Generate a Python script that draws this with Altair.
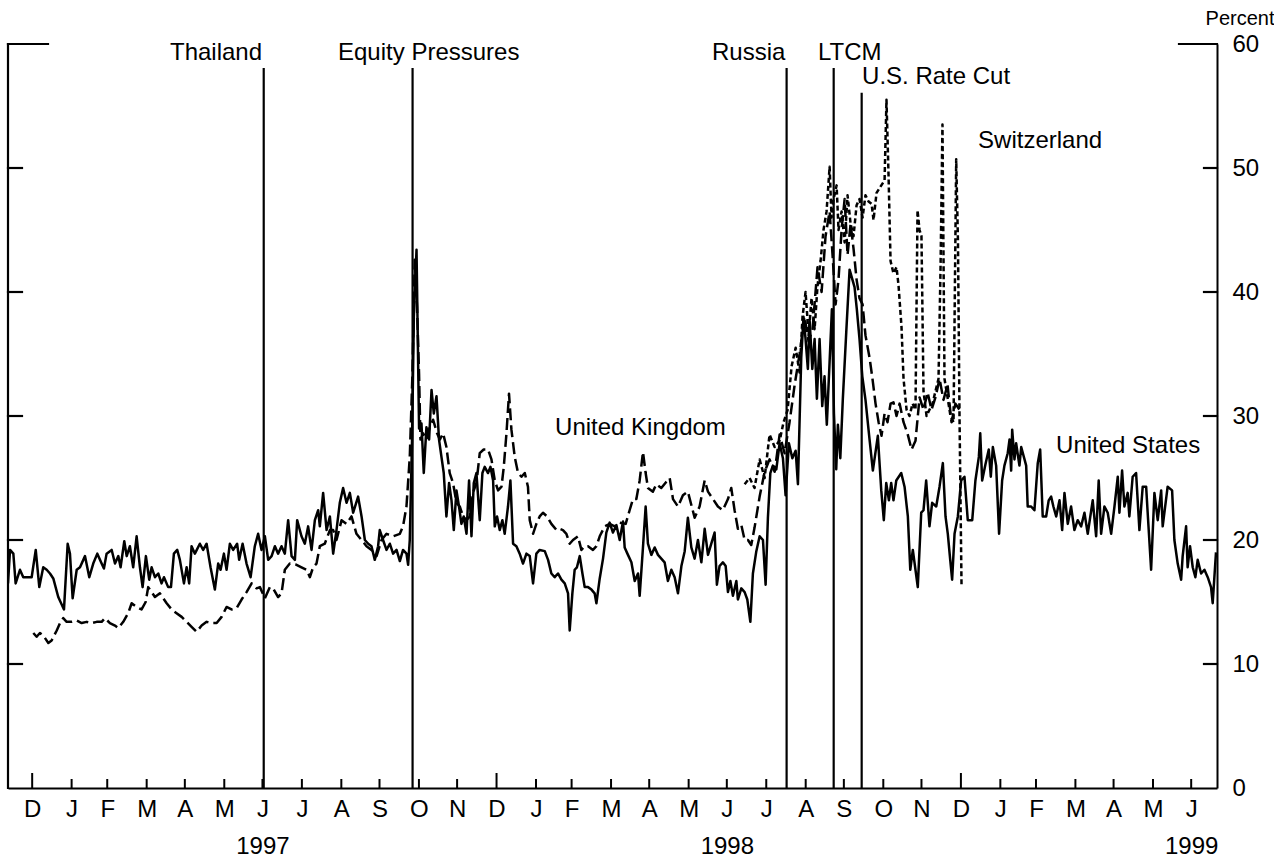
import altair as alt
import pandas as pd

# ---------------- data (days after 1996-12-13, percent) ----------------
BASE = pd.Timestamp("1996-12-13")

us_points = [
    (0, 16.5), (1.6, 19.2), (4.2, 18.9), (6.0, 16.5), (9.4, 17.6), (12.0, 17.0), (18.6, 17.0), (21.8, 19.2),
    (24.6, 16.2), (27.7, 17.8), (30.4, 17.6), (33.0, 17.3), (35.6, 16.9), (39.5, 15.4), (44.0, 14.4), (46.9, 19.7),
    (48.7, 18.9), (50.8, 15.3), (54.0, 17.6), (56.6, 17.8), (60.5, 18.7), (63.9, 17.0), (67.0, 18.1), (70.2, 18.9),
    (73.6, 18.1), (75.4, 17.7), (77.5, 18.9), (81.5, 19.2), (84.1, 18.1), (86.7, 18.7), (88.5, 17.8), (91.4, 19.9),
    (93.3, 18.7), (95.8, 19.5), (98.4, 17.8), (101.1, 20.3), (103.7, 17.8), (105.8, 16.2), (108.4, 18.7), (111.0, 16.8),
    (112.9, 17.8), (115.5, 17.0), (118.1, 17.3), (120.7, 16.5), (122.6, 17.0), (125.9, 16.2), (128.1, 16.2), (130.4, 18.9),
    (133.0, 19.2), (135.1, 18.4), (138.3, 16.5), (140.4, 17.8), (142.4, 16.5), (144.3, 19.5), (146.9, 18.9), (150.8, 19.7),
    (153.4, 19.2), (156.1, 19.7), (159.2, 17.8), (162.6, 16.0), (165.2, 18.1), (167.1, 17.6), (169.7, 18.9), (171.8, 17.6),
    (174.4, 19.7), (177.0, 19.2), (180.1, 19.7), (181.7, 18.4), (184.4, 19.7), (187.5, 18.1), (190.7, 17.0), (194.0, 19.5),
    (196.6, 20.5), (199.3, 19.2), (201.9, 20.3), (204.5, 18.4), (207.2, 18.7), (209.8, 19.5), (212.3, 18.9), (215.0, 19.5),
    (217.6, 18.9), (220.2, 21.6), (222.9, 18.7), (225.5, 18.4), (227.3, 21.6), (230.7, 20.3), (233.3, 19.7), (235.9, 21.1),
    (238.6, 19.2), (241.2, 21.6), (243.8, 22.4), (245.1, 21.1), (247.7, 23.8), (250.4, 20.8), (253.0, 21.9), (255.6, 18.9),
    (258.2, 20.8), (260.8, 23.0), (263.4, 24.2), (266.1, 23.0), (268.7, 23.8), (271.3, 22.2), (275.2, 23.5), (277.9, 21.9),
    (280.5, 20.0), (283.1, 19.7), (285.7, 19.5), (288.3, 18.4), (290.9, 19.5), (292.2, 20.8), (294.8, 20.0), (297.5, 19.2),
    (300.1, 19.7), (302.7, 18.9), (305.4, 19.2), (308.0, 18.3), (310.5, 19.2), (313.2, 18.9), (314.5, 18.0), (315.8, 20.0),
    (317.6, 28.1), (319.0, 38.0), (321.1, 43.4), (323.1, 29.0), (325.0, 29.4), (326.8, 25.4), (328.9, 29.1), (331.0, 28.1),
    (332.9, 32.1), (334.7, 30.2), (336.8, 31.6), (338.8, 28.1), (340.7, 26.7), (342.5, 25.4), (344.6, 21.9), (346.7, 24.6),
    (348.6, 23.2), (350.4, 20.8), (352.5, 24.0), (354.5, 22.7), (356.4, 21.3), (358.2, 21.9), (360.4, 20.5), (362.4, 24.8),
    (364.3, 20.3), (366.1, 24.6), (368.2, 25.4), (370.8, 21.6), (372.9, 25.4), (374.7, 25.9), (377.3, 25.4), (379.2, 25.9),
    (381.3, 24.8), (382.6, 21.1), (384.4, 21.9), (386.5, 20.8), (388.6, 21.6), (390.4, 20.5), (393.0, 22.7), (394.9, 24.8),
    (397.0, 19.7), (399.6, 19.5), (402.2, 18.9), (404.8, 18.1), (407.5, 18.9), (410.1, 18.7), (412.7, 16.5), (415.3, 18.9),
    (417.9, 19.2), (421.9, 19.1), (424.5, 18.4), (427.1, 17.3), (429.7, 17.0), (432.3, 17.3), (435.0, 16.8), (437.6, 16.5),
    (440.2, 15.7), (441.5, 12.7), (443.6, 15.7), (445.4, 17.6), (447.2, 17.8), (449.4, 18.7), (451.5, 17.3), (453.3, 16.2),
    (455.9, 16.2), (458.6, 16.0), (461.1, 15.7), (462.5, 14.9), (465.1, 16.9), (467.7, 18.5), (470.3, 20.6), (472.9, 21.4),
    (475.5, 20.6), (478.2, 21.2), (480.8, 20.0), (483.4, 21.5), (484.7, 19.4), (487.3, 18.8), (490.0, 18.2), (492.6, 16.7),
    (495.2, 17.3), (496.5, 15.5), (499.1, 19.4), (501.2, 22.7), (503.0, 19.7), (505.7, 18.8), (508.3, 19.4), (510.9, 18.8),
    (513.5, 18.5), (516.1, 18.2), (518.7, 16.7), (521.4, 17.6), (524.0, 17.0), (526.6, 15.7), (529.3, 17.9), (531.9, 19.1),
    (534.4, 21.8), (537.1, 19.4), (539.7, 18.5), (542.3, 20.0), (545.0, 18.2), (547.6, 20.9), (550.2, 18.8), (552.8, 19.7),
    (555.4, 20.6), (557.2, 16.4), (559.3, 17.9), (561.9, 18.2), (564.1, 17.9), (565.9, 15.8), (567.8, 16.7), (569.8, 15.5),
    (572.5, 16.7), (573.7, 15.2), (576.4, 16.1), (579.0, 15.8), (581.1, 15.2), (583.5, 13.4), (585.5, 17.3), (588.2, 19.1),
    (590.8, 20.3), (593.4, 20.0), (595.5, 16.4), (597.3, 21.8), (599.2, 25.4), (601.2, 26.0), (603.9, 25.7), (606.5, 27.8),
    (609.1, 26.6), (611.2, 23.6), (613.8, 27.8), (616.5, 26.6), (619.1, 27.2), (620.9, 24.5), (623.5, 34.7), (625.3, 38.0),
    (626.9, 36.2), (628.7, 33.8), (630.1, 37.7), (632.2, 33.8), (634.0, 36.2), (635.8, 31.4), (637.9, 36.2), (640.0, 30.8),
    (641.8, 33.2), (643.6, 29.3), (645.8, 34.4), (647.6, 38.6), (649.2, 30.2), (651.0, 25.7), (652.3, 29.3), (654.2, 26.6),
    (656.2, 31.4), (658.9, 36.8), (661.5, 41.8), (665.4, 40.4), (667.2, 38.6), (669.3, 36.2), (671.5, 33.2), (674.0, 31.3),
    (677.2, 28.1), (679.8, 25.6), (683.7, 28.4), (686.4, 24.0), (688.4, 21.6), (690.3, 24.6), (692.4, 23.2), (694.2, 24.6),
    (696.0, 23.2), (698.2, 24.8), (702.1, 25.4), (704.7, 24.3), (707.3, 21.9), (709.2, 17.6), (711.2, 19.2), (715.1, 16.2),
    (717.8, 22.2), (719.6, 22.4), (721.7, 24.8), (724.3, 21.1), (726.4, 23.0), (729.6, 22.7), (732.2, 24.3), (734.8, 26.2),
    (736.9, 21.9), (738.7, 20.5), (740.6, 18.4), (742.1, 16.8), (744.0, 20.5), (746.6, 21.9), (749.2, 24.8), (751.8, 25.1),
    (754.4, 21.6), (757.9, 21.6), (760.4, 24.8), (763.1, 26.7), (764.2, 28.6), (765.7, 24.8), (768.3, 26.1), (770.9, 27.3),
    (772.5, 25.1), (774.1, 27.5), (776.7, 26.0), (779.0, 20.5), (781.4, 24.8), (783.2, 26.0), (785.8, 27.0), (787.2, 28.1),
    (788.5, 25.6), (789.3, 28.9), (791.1, 26.5), (792.4, 27.8), (795.0, 26.0), (796.4, 27.5), (799.0, 26.5), (800.3, 26.0),
    (801.5, 22.7), (804.2, 22.7), (806.8, 22.4), (809.4, 26.2), (811.3, 27.3), (813.3, 21.9), (816.0, 21.9), (818.0, 23.2),
    (819.9, 23.5), (821.7, 22.7), (823.9, 21.9), (826.5, 23.2), (828.6, 20.8), (830.4, 23.8), (833.0, 21.3), (835.6, 22.7),
    (838.2, 20.8), (840.8, 21.6), (843.5, 21.1), (846.1, 22.2), (848.7, 20.5), (852.6, 23.2), (855.3, 20.3), (857.3, 24.8),
    (859.2, 20.5), (861.8, 22.7), (864.4, 22.2), (867.1, 20.5), (869.7, 22.7), (872.3, 25.1), (873.6, 22.2), (875.7, 25.6),
    (877.5, 22.7), (880.1, 23.8), (881.4, 21.9), (884.0, 25.1), (886.7, 25.4), (889.3, 20.8), (891.9, 24.3), (894.6, 24.3),
    (895.8, 22.2), (898.5, 17.6), (901.1, 23.8), (903.7, 21.6), (906.4, 24.0), (907.6, 21.1), (911.5, 24.3), (915.0, 24.0),
    (916.8, 20.0), (919.4, 18.1), (922.1, 16.8), (923.3, 18.7), (926.0, 21.1), (927.2, 17.8), (929.1, 19.5), (931.2, 17.8),
    (933.3, 17.0), (935.1, 18.4), (937.8, 17.3), (940.4, 17.6), (943.0, 17.0), (945.6, 16.2), (946.9, 14.9), (949.5, 19.0),
]

uk_points = [
    (19.9, 12.5), (22.5, 12.2), (25.1, 12.5), (27.7, 12.3), (31.7, 11.7), (34.3, 11.9), (38.3, 12.7), (40.9, 13.3),
    (43.4, 13.7), (46.1, 13.4), (50.0, 13.4), (54.0, 13.5), (57.9, 13.3), (61.8, 13.4), (65.8, 13.3), (69.7, 13.4),
    (73.6, 13.4), (76.2, 13.7), (80.1, 13.3), (84.1, 13.1), (86.7, 12.9), (90.6, 13.4), (94.5, 14.1), (97.2, 14.9),
    (101.1, 14.6), (105.0, 14.4), (108.2, 15.0), (110.2, 16.2), (112.9, 15.8), (115.5, 15.4), (119.4, 15.7), (122.0, 15.3),
    (124.7, 14.9), (128.6, 14.4), (132.5, 14.1), (136.5, 13.8), (140.4, 13.4), (144.3, 13.0), (148.2, 12.6), (152.2, 13.1),
    (156.1, 13.4), (160.0, 13.3), (164.0, 13.3), (167.9, 13.8), (171.8, 14.6), (175.7, 14.4), (179.7, 14.5), (183.6, 15.2),
    (187.5, 15.8), (191.5, 16.5), (195.4, 16.1), (198.0, 16.2), (201.9, 15.3), (205.8, 16.2), (208.4, 16.1), (212.3, 15.4),
    (215.0, 15.7), (217.6, 17.6), (221.5, 18.1), (226.8, 18.0), (230.7, 17.8), (234.7, 17.6), (237.3, 17.0), (239.8, 17.8),
    (242.5, 18.1), (245.1, 19.5), (249.0, 19.7), (253.0, 20.8), (255.6, 20.8), (258.2, 20.0), (262.2, 21.6), (266.1, 21.3),
    (270.0, 21.9), (273.9, 20.5), (277.9, 20.0), (281.8, 19.5), (285.7, 19.2), (289.7, 18.7), (293.6, 20.0), (297.5, 20.5),
    (302.7, 20.3), (308.0, 20.5), (310.5, 21.1), (313.2, 22.7), (315.8, 26.7), (317.9, 33.4), (319.7, 42.6), (321.5, 38.8),
    (323.1, 33.4), (324.2, 28.1), (326.3, 28.6), (328.9, 28.1), (331.5, 29.1), (334.1, 29.7), (337.3, 28.6), (339.4, 28.1),
    (342.0, 28.6), (344.6, 27.5), (347.2, 25.4), (349.8, 24.6), (352.5, 23.0), (355.1, 22.7), (357.7, 21.9), (360.4, 21.6),
    (362.9, 21.9), (365.5, 23.8), (368.2, 24.6), (370.8, 27.0), (373.9, 27.3), (377.3, 27.3), (380.0, 26.5), (382.6, 24.8),
    (385.2, 24.0), (387.9, 24.3), (389.7, 25.9), (391.8, 28.6), (393.8, 31.8), (395.7, 28.9), (398.3, 26.7), (400.9, 25.4),
    (403.6, 25.1), (406.2, 25.4), (408.7, 24.3), (410.1, 21.6), (412.7, 20.5), (415.3, 21.3), (417.9, 21.9), (420.5, 22.2),
    (423.7, 21.9), (427.1, 21.3), (431.1, 20.8), (433.7, 20.9), (436.2, 20.8), (438.9, 20.5), (441.5, 19.7), (444.1, 20.0),
    (448.0, 20.3), (450.7, 19.2), (453.3, 19.5), (455.9, 19.5), (459.8, 19.2), (462.5, 19.5), (465.1, 20.3), (469.0, 21.1),
    (472.9, 21.3), (476.9, 21.1), (480.8, 21.4), (485.5, 21.3), (488.6, 22.4), (491.2, 23.3), (493.9, 23.3), (496.5, 24.8),
    (499.1, 27.1), (501.2, 25.4), (503.0, 24.2), (506.9, 23.9), (509.6, 24.5), (513.5, 24.2), (517.5, 24.7), (520.1, 25.0),
    (522.7, 23.3), (526.6, 22.7), (530.5, 23.6), (534.4, 23.9), (539.7, 21.8), (543.6, 22.7), (547.6, 24.8), (550.2, 23.9),
    (554.1, 23.3), (558.0, 22.7), (561.9, 22.4), (565.9, 23.3), (568.5, 24.2), (571.1, 22.4), (573.7, 20.9), (576.4, 21.2),
    (579.0, 20.0), (581.6, 20.0), (584.2, 19.6), (586.8, 21.0), (590.8, 23.5), (594.7, 25.5), (598.6, 26.5), (602.6, 25.5),
    (606.5, 28.5), (610.4, 27.0), (614.3, 29.5), (618.3, 32.5), (622.2, 35.0), (626.1, 38.0), (629.3, 36.0), (632.4, 37.0),
    (636.3, 42.0), (639.5, 40.0), (642.6, 44.5), (645.8, 46.5), (648.1, 43.0), (650.5, 39.0), (652.8, 41.0), (655.2, 45.0),
    (657.6, 47.5), (659.9, 43.0), (662.3, 45.5), (664.6, 43.5), (667.0, 41.0), (669.3, 39.5), (671.7, 39.0), (674.0, 36.5),
    (677.2, 34.7), (679.5, 33.0), (681.9, 31.0), (684.3, 29.5), (686.6, 28.4), (689.0, 30.2), (691.3, 29.5), (693.7, 31.0),
    (696.0, 31.1), (698.4, 30.0), (700.8, 31.0), (703.9, 29.5), (707.0, 28.6), (710.2, 27.3), (713.3, 28.0), (716.5, 31.5),
    (719.6, 30.5), (722.8, 31.9), (725.9, 30.5), (729.0, 31.5), (732.2, 33.0), (735.3, 31.3), (738.5, 32.5), (741.6, 29.5),
    (744.7, 31.0), (747.9, 30.5), (750.2, 30.5),
]

ch_points = [
    (579.0, 24.5), (582.9, 25.0), (586.8, 24.2), (590.8, 26.5), (594.7, 25.0), (598.6, 28.5), (602.6, 27.5), (606.5, 28.0),
    (609.6, 29.5), (612.8, 30.5), (615.9, 34.0), (619.1, 35.5), (622.2, 33.5), (624.5, 38.0), (626.9, 40.0), (629.3, 36.5),
    (631.6, 39.5), (634.0, 37.0), (636.3, 40.5), (638.7, 42.5), (641.0, 45.0), (643.4, 46.5), (645.8, 50.1), (647.3, 46.0),
    (648.9, 47.5), (651.3, 48.6), (652.8, 45.0), (655.2, 46.5), (657.6, 44.0), (659.9, 47.8), (662.3, 45.5), (664.6, 44.5),
    (667.0, 47.0), (669.3, 47.5), (671.7, 46.0), (674.0, 47.8), (676.4, 47.3), (678.8, 47.1), (680.3, 45.8), (682.7, 48.0),
    (685.8, 48.5), (689.0, 49.0), (690.5, 55.5), (692.1, 49.5), (693.7, 42.5), (696.0, 41.5), (698.4, 42.0), (700.0, 40.5),
    (702.3, 37.2), (703.9, 33.0), (706.3, 30.5), (708.6, 30.0), (711.0, 31.0), (713.3, 30.5), (714.9, 46.6), (716.5, 45.0),
    (718.0, 44.5), (719.6, 32.0), (722.0, 30.0), (724.3, 30.5), (726.7, 31.0), (729.0, 32.0), (731.4, 33.0), (733.0, 42.0),
    (734.5, 53.5), (736.1, 33.0), (738.5, 31.5), (740.8, 30.0), (743.2, 29.5), (745.3, 50.7), (746.7, 44.0), (747.9, 30.0),
    (749.5, 16.2),
]

event_dates = ["1997-07-02", "1997-10-27", "1998-08-17", "1998-09-23", "1998-10-15"]
event_tops = [58.06, 58.06, 58.06, 58.06, 56.07]

# annotation texts: (text, day after base, value)
labels_left = [
    ("Equity Pressures", 259.4, 59.3),
    ("LTCM", 636.7, 59.3),
    ("U.S. Rate Cut", 671.3, 57.3),
    ("Switzerland", 762.5, 52.2),
    ("United Kingdom", 430.0, 29.0),
    ("United States", 823.8, 27.6),
]
labels_right = [
    ("Thailand", 199.7, 59.3),
    ("Russia", 611.0, 59.3),
]

y_ticks = [10, 20, 30, 40, 50]
y_top = [60]
month_letters = ["D", "J", "F", "M", "A", "M", "J", "J", "A", "S", "O", "N"]

# ---------------- build frames ----------------
def series_frame(points):
    d = [p[0] for p in points]
    v = [p[1] for p in points]
    return pd.DataFrame({
        "date": BASE + pd.to_timedelta(d, unit="D"),
        "value": v,
        "i": list(range(len(points))),
    })

us_df = series_frame(us_points)
uk_df = series_frame(uk_points)
ch_df = series_frame(ch_points)

ev_df = pd.DataFrame({"date": pd.to_datetime(event_dates), "value": event_tops, "zero": 0.0})

def label_frame(items):
    return pd.DataFrame({
        "text": [t for t, _, _ in items],
        "date": BASE + pd.to_timedelta([d for _, d, _ in items], unit="D"),
        "value": [v for _, _, v in items],
    })

lab_l = label_frame(labels_left)
lab_r = label_frame(labels_right)

months = pd.date_range("1997-01-01", "1999-07-01", freq="MS")
mt_df = pd.DataFrame({"date": months[months.month != 1]})
yt_df = pd.DataFrame({"date": months[months.month == 1]})
ytick_df = pd.DataFrame({"value": y_ticks})
ytop_df = pd.DataFrame({"value": y_top})

W, H = 1209, 744
FONT = "Liberation Sans"
FS = 24

tick_values = [alt.DateTime(year=int(m.year), month=int(m.month), date=1) for m in months]
letters = "[" + ",".join("'%s'" % s for s in month_letters) + "]"
label_expr = ("month(datum.value) == 6 ? ['J', toString(year(datum.value))] : "
              + letters + "[month(datum.value)]")

x_axis = alt.Axis(values=tick_values, labelExpr=label_expr, ticks=False, grid=False,
                  domain=True, domainColor="black", domainWidth=2, labelFont=FONT,
                  labelFontSize=FS, labelColor="black", labelPadding=9, labelLineHeight=37,
                  labelFlush=False, labelOverlap=False, title=None)
y_axis = alt.Axis(orient="right", values=[0, 10, 20, 30, 40, 50, 60], ticks=False, grid=False,
                  domain=True, domainColor="black", domainWidth=2, labelFont=FONT,
                  labelFontSize=FS, labelColor="black", labelPadding=15, labelFlush=False,
                  title="Percent", titleAngle=0, titleAlign="right", titleBaseline="middle",
                  titleX=57, titleY=-26, titleFont=FONT, titleFontSize=20,
                  titleFontWeight="normal", titleColor="black")

x_scale = alt.Scale(domain=[alt.DateTime(year=1996, month=12, date=13),
                            alt.DateTime(year=1999, month=7, date=21, hours=7)])
y_scale = alt.Scale(domain=[0, 60], nice=False, zero=True)

X = alt.X("date:T", scale=x_scale, axis=x_axis)
Y = alt.Y("value:Q", scale=y_scale, axis=y_axis)

line_kw = dict(color="black", strokeWidth=2.5, strokeJoin="round", clip=True)

us_line = alt.Chart(us_df).mark_line(**line_kw).encode(x=X, y=Y, order="i:Q")
uk_line = alt.Chart(uk_df).mark_line(strokeDash=[12, 5], **line_kw).encode(x=X, y=Y, order="i:Q")
ch_line = alt.Chart(ch_df).mark_line(strokeDash=[5, 3], **line_kw).encode(x=X, y=Y, order="i:Q")

events = alt.Chart(ev_df).mark_rule(color="black", strokeWidth=2.2).encode(
    x=X, y=Y, y2=alt.Y2("zero:Q"))

rule_kw = dict(color="black", strokeWidth=2.2, strokeCap="square")
left_ticks = alt.Chart(ytick_df).mark_rule(**rule_kw).encode(y=Y, x=alt.value(0), x2=alt.value(14))
left_top = alt.Chart(ytop_df).mark_rule(**rule_kw).encode(y=Y, x=alt.value(0), x2=alt.value(40))
right_ticks = alt.Chart(ytick_df).mark_rule(**rule_kw).encode(y=Y, x=alt.value(W - 13), x2=alt.value(W))
right_top = alt.Chart(ytop_df).mark_rule(**rule_kw).encode(y=Y, x=alt.value(W - 38), x2=alt.value(W))
left_line = alt.Chart(ytop_df).mark_rule(**rule_kw).encode(x=alt.value(0), y=Y, y2=alt.value(H))

month_ticks = alt.Chart(mt_df).mark_rule(color="black", strokeWidth=2).encode(
    x=X, y=alt.value(H), y2=alt.value(H - 9))
year_ticks = alt.Chart(yt_df).mark_rule(color="black", strokeWidth=2).encode(
    x=X, y=alt.value(H), y2=alt.value(H - 15))

text_kw = dict(font=FONT, fontSize=FS, color="black", baseline="middle")
txt_left = alt.Chart(lab_l).mark_text(align="left", **text_kw).encode(x=X, y=Y, text="text:N")
txt_right = alt.Chart(lab_r).mark_text(align="right", **text_kw).encode(x=X, y=Y, text="text:N")

chart = alt.layer(
    us_line, uk_line, ch_line, events,
    left_line, left_ticks, left_top, right_ticks, right_top,
    month_ticks, year_ticks, txt_left, txt_right,
).properties(
    width=W, height=H,
    padding={"left": 8, "top": 44, "right": 57, "bottom": 71},
    autosize=alt.AutoSizeParams(type="none"),
    background="white",
).configure_view(stroke=None)

chart.save("out.html", embed_options={"renderer": "svg", "actions": False})
